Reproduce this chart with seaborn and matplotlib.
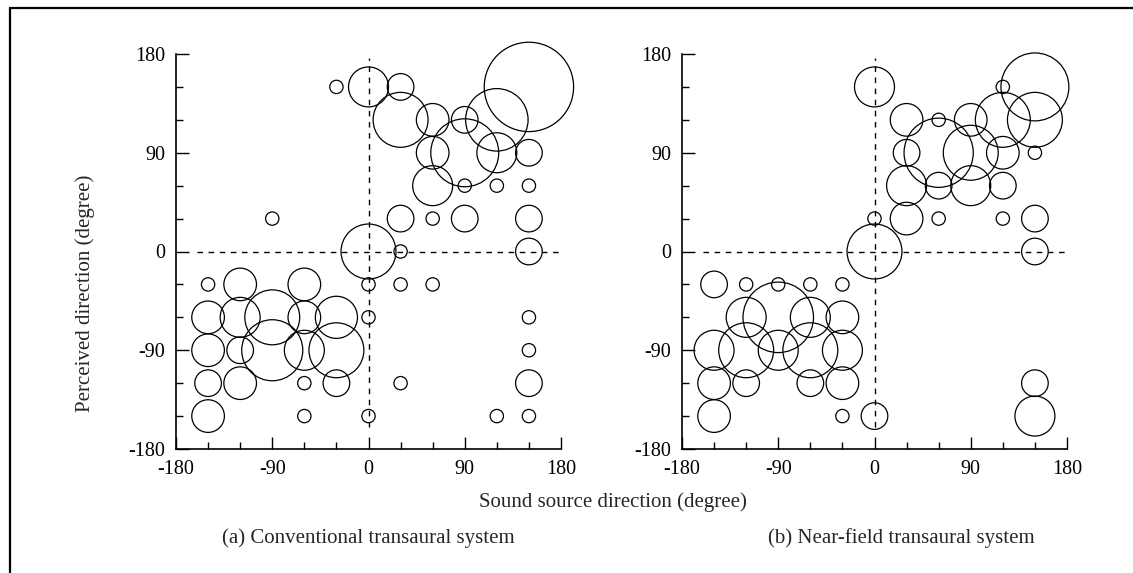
import numpy as np
import pandas as pd
import matplotlib
matplotlib.use("Agg")
import matplotlib.pyplot as plt
from matplotlib.lines import Line2D
from matplotlib.ticker import MultipleLocator
import seaborn as sns

# Panel (a): conventional transaural system
a_source = [-90, -30, 0, 30, 30, 60, 90, 120, 150, 60, 90, 120, 150, 60, 90, 120, 150,
            30, 60, 90, 150, 0, 30, 150,
            -150, -120, -60, 0, 30, 60, -150, -120, -90, -60, -30, 0, 150,
            -150, -120, -90, -60, -30, 150, -150, -120, -60, -30, 30, 150,
            -150, -60, 0, 120, 150]
a_perceived = [30, 150, 150, 150, 120, 120, 120, 120, 150, 90, 90, 90, 90, 60, 60, 60, 60,
               30, 30, 30, 30, 0, 0, 0,
               -30, -30, -30, -30, -30, -30, -60, -60, -60, -60, -60, -60, -60,
               -90, -90, -90, -90, -90, -90, -120, -120, -120, -120, -120, -120,
               -150, -150, -150, -150, -150]
a_count = [1, 1, 9, 4, 17, 6, 4, 22, 45, 6, 26, 9, 4, 9, 1, 1, 1,
           4, 1, 4, 4, 17, 1, 4,
           1, 6, 6, 1, 1, 1, 6, 9, 17, 6, 10, 1, 1,
           6, 4, 21, 9, 17, 1, 4, 6, 1, 4, 1, 4,
           6, 1, 1, 1, 1]

# Panel (b): near-field transaural system
b_source = [0, 120, 150, 30, 60, 90, 120, 150, 30, 60, 90, 120, 150,
            30, 60, 90, 120, 0, 30, 60, 120, 150, 0, 150,
            -150, -120, -90, -60, -30, -120, -90, -60, -30,
            -150, -120, -90, -60, -30, -150, -120, -60, -30, 150,
            -150, -30, 0, 150]
b_perceived = [150, 150, 150, 120, 120, 120, 120, 120, 90, 90, 90, 90, 90,
               60, 60, 60, 60, 30, 30, 30, 30, 30, 0, 0,
               -30, -30, -30, -30, -30, -60, -60, -60, -60,
               -90, -90, -90, -90, -90, -120, -120, -120, -120, -120,
               -150, -150, -150, -150]
b_count = [9, 1, 26, 6, 1, 6, 17, 17, 4, 27, 17, 6, 1,
           9, 4, 9, 4, 1, 6, 1, 1, 4, 17, 4,
           4, 1, 1, 1, 1, 9, 28, 9, 6,
           9, 17, 9, 17, 9, 6, 4, 4, 6, 4,
           6, 1, 4, 9]

captions = ["(a) Conventional transaural system", "(b) Near-field transaural system"]

sns.set_style("ticks")
plt.rcParams["font.family"] = ["Liberation Serif", "DejaVu Serif"]
plt.rcParams["axes.unicode_minus"] = False

W, H = 1133, 573
fig = plt.figure(figsize=(W / 100, H / 100), dpi=100)

panels = [
    pd.DataFrame({"source": a_source, "perceived": a_perceived, "count": a_count}),
    pd.DataFrame({"source": b_source, "perceived": b_perceived, "count": b_count}),
]
lefts = [176, 682]
caption_x = [368, 901]
axes_w, axes_bottom, axes_top = 385, 449, 54

for df, left, cap, cx in zip(panels, lefts, captions, caption_x):
    ax = fig.add_axes([left / W, 1 - axes_bottom / H, axes_w / W, (axes_bottom - axes_top) / H])
    # reference dashed cross at the origin
    ax.plot([-160, 180], [0, 0], color="black", ls=(0, (4, 4)), lw=1)
    ax.plot([0, 0], [-160, 176], color="black", ls=(0, (4, 4)), lw=1)
    sns.scatterplot(
        data=df, x="source", y="perceived", size="count",
        sizes=(92, 92 * 45), size_norm=(1, 45),
        facecolors="none", edgecolor="black", linewidth=0.9,
        legend=False, ax=ax, clip_on=False, zorder=3,
    )
    ax.set_xlim(-180, 180)
    ax.set_ylim(-180, 180)
    ax.xaxis.set_major_locator(MultipleLocator(90))
    ax.yaxis.set_major_locator(MultipleLocator(90))
    ax.xaxis.set_minor_locator(MultipleLocator(30))
    ax.yaxis.set_minor_locator(MultipleLocator(30))
    ax.tick_params(which="both", direction="in", width=1, labelsize=14.5, colors="black")
    ax.tick_params(which="major", length=9)
    ax.tick_params(which="minor", length=5)
    ax.tick_params(axis="x", which="major", pad=8)
    ax.tick_params(axis="y", which="major", pad=8)
    ax.set_xlabel("")
    ax.set_ylabel("")
    sns.despine(ax=ax)
    for s in ["left", "bottom"]:
        ax.spines[s].set_linewidth(1.2)
        ax.spines[s].set_color("black")
    fig.text(cx / W, 1 - 538 / H, cap, ha="center", va="center", fontsize=15)

fig.text(613 / W, 1 - 502 / H, "Sound source direction (degree)", ha="center", va="center", fontsize=15)
fig.text(85 / W, 1 - 293 / H, "Perceived direction (degree)", ha="center", va="center",
         rotation=90, fontsize=15)

# partial outer frame (top and left edges)
fig.add_artist(Line2D([10 / W, 1], [1 - 8 / H, 1 - 8 / H], color="black", lw=1.6))
fig.add_artist(Line2D([10 / W, 10 / W], [0, 1 - 8 / H], color="black", lw=1.6))

fig.savefig("out.png", dpi=100)
